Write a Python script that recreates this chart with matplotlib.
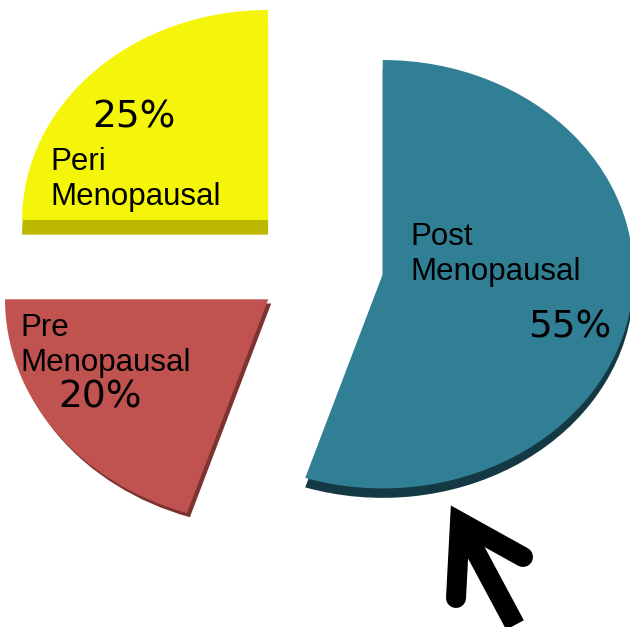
import numpy as np
import matplotlib
matplotlib.use('Agg')
import matplotlib.pyplot as plt
from matplotlib.patches import Wedge

# Menopausal status share
labels = ['Post', 'Pre', 'Peri']
shares = [55, 20, 25]
explode = [0.25, 0.27, 0.31]
colors = ['#317f95', '#c0524f', '#f5f50a']
side_colors = ['#143844', '#7d3331', '#bcb800']
side_shift = [(0.0, -0.045), (0.012, -0.02), (0.0, -0.07)]
radius_scale = [1.02, 1.07, 1.0]

W, H = 630, 627
fig = plt.figure(figsize=(W / 100, H / 100), dpi=100)
ax = fig.add_axes([0, 0, 1, 1])

wedges, _ = ax.pie(shares, colors=colors, explode=explode, startangle=90,
                   counterclock=False, wedgeprops=dict(linewidth=0))

# fake 3D: darker copy of each slice pushed down behind it
for w, sc, sh, rs in zip(wedges, side_colors, side_shift, radius_scale):
    w.set_radius(w.r * rs)
    w.set_zorder(3)
    cx, cy = w.center
    side = Wedge((cx + sh[0], cy + sh[1]), w.r, w.theta1, w.theta2,
                 facecolor=sc, linewidth=0, zorder=2)
    ax.add_patch(side)

# pixel scale: 246 px per unit across, 210 px per unit down
cx_px, cy_px, sx, sy = 322, 266, 246, 210
ax.set_aspect('auto')
ax.set_xlim(-cx_px / sx, (W - cx_px) / sx)
ax.set_ylim(-(H - cy_px) / sy, cy_px / sy)
ax.axis('off')


def px(x, y):
    return x / W, 1 - y / H


name_font = dict(family='Liberation Sans', fontsize=22.5, color='black',
                 ha='left', va='baseline', linespacing=1.22,
                 transform=ax.transAxes, zorder=5)
pct_font = dict(family='DejaVu Sans', fontsize=27, color='black',
                ha='left', va='baseline', transform=ax.transAxes, zorder=5)

# baseline of the second line ("Menopausal")
name_pos = {'Post': (410, 280), 'Pre': (20, 371), 'Peri': (50, 205)}
pct_pos = {'Post': (528, 338), 'Pre': (58, 408), 'Peri': (92, 128)}
for lab, val in zip(labels, shares):
    ax.text(*px(*name_pos[lab]), f'{lab}\nMenopausal', **name_font)
    ax.text(*px(*pct_pos[lab]), f'{val}%', **pct_font)

# pointer arrow under the big slice
lw = 20 / 1.389
head = np.array([(456, 598), (460, 522), (523, 557)])
ax.plot(*zip(*[px(*p) for p in head]), color='black', lw=lw,
        solid_capstyle='round', solid_joinstyle='miter',
        transform=ax.transAxes, zorder=6)
shaft = np.array([(462, 526), (515, 625)])
ax.plot(*zip(*[px(*p) for p in shaft]), color='black', lw=lw,
        solid_capstyle='butt', transform=ax.transAxes, zorder=6)

fig.savefig('out.png', dpi=100)
